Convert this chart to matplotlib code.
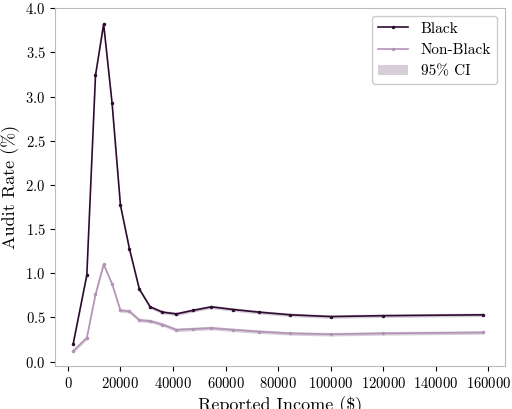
import matplotlib
matplotlib.use("Agg")
import matplotlib.pyplot as plt
import numpy as np

plt.rcParams['font.family'] = ['cmr10']
plt.rcParams['mathtext.fontset'] = 'cm'
plt.rcParams['axes.formatter.use_mathtext'] = True

income = [2000, 7200, 10500, 13600, 16800, 20000, 23400, 27200, 31300, 36000, 41300,
          47600, 54600, 62900, 72700, 84600, 100000, 120000, 158000]
black = [0.20, 0.98, 3.24, 3.82, 2.93, 1.77, 1.28, 0.82, 0.62, 0.56, 0.54,
         0.58, 0.62, 0.59, 0.56, 0.53, 0.51, 0.52, 0.53]
nonblack = [0.12, 0.27, 0.76, 1.10, 0.88, 0.58, 0.57, 0.47, 0.46, 0.42, 0.36,
            0.37, 0.38, 0.36, 0.34, 0.32, 0.31, 0.32, 0.33]
ci_b = 0.02
ci_nb = 0.02

fig, ax = plt.subplots(figsize=(5.12, 4.09), dpi=100)
cb = '#2e0c30'
cn = '#b394b5'
ax.fill_between(income, np.array(black) - ci_b, np.array(black) + ci_b, color='#d5cdd8', lw=0)
ax.fill_between(income, np.array(nonblack) - ci_nb, np.array(nonblack) + ci_nb, color='#d5cdd8', lw=0, label='95% CI')
ax.plot(income, black, color=cb, lw=1.2, marker='o', ms=1.5, label='Black')
ax.plot(income, nonblack, color=cn, lw=1.2, marker='o', ms=1.5, label='Non-Black')
h, l = ax.get_legend_handles_labels()
ax.legend([h[1], h[2], h[0]], [l[1], l[2], l[0]], loc='upper right', fontsize=11, framealpha=1)
ax.set_xlim(-4800, 166300)
ax.set_ylim(-0.05, 4.0)
ax.set_xticks(range(0, 160001, 20000))
ax.set_xlabel('Reported Income ($)', fontsize=13)
ax.set_ylabel('Audit Rate (%)', fontsize=13)
ax.tick_params(labelsize=10.5)
for s in ax.spines.values():
    s.set_color('#bbbbbb')
fig.subplots_adjust(left=0.108, right=0.986, top=0.98, bottom=0.105)
fig.savefig('out.png')
